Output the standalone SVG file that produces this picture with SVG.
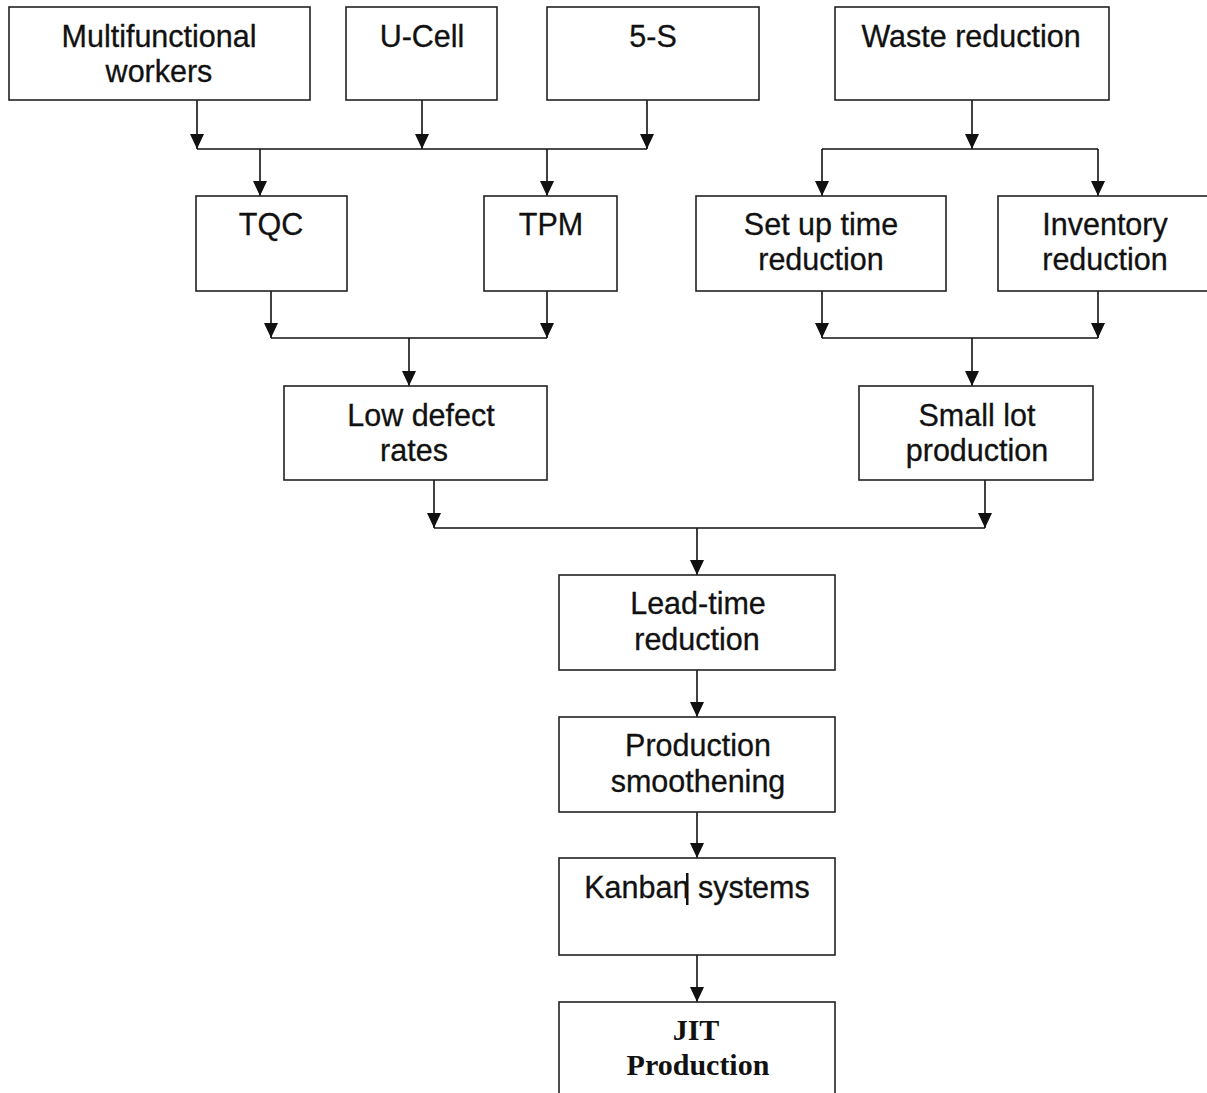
<svg xmlns="http://www.w3.org/2000/svg" width="1207" height="1093" viewBox="0 0 1207 1093">
<defs>
<marker id="ah" markerUnits="userSpaceOnUse" markerWidth="16" markerHeight="14" viewBox="0 0 16 14" refX="15" refY="7" orient="auto">
<path d="M0,0 L15,7 L0,14 Z" fill="#111"/>
</marker>
</defs>
<style>
rect.box{fill:#fff;stroke:#222;stroke-width:1.6}
text{font-family:"Liberation Sans",Arial,sans-serif;font-size:30.5px;fill:#111;text-anchor:middle;stroke:#111;stroke-width:0.3}
text.jit{font-family:"Liberation Serif","Times New Roman",serif;font-weight:bold;font-size:30px;stroke:none}
.c line{stroke:#111;stroke-width:1.6;fill:none}
.a{marker-end:url(#ah)}
</style>
<rect width="1207" height="1093" fill="#fff"/>
<g class="c" id="connectors">
<line class="a" x1="197" y1="100" x2="197" y2="149"/>
<line class="a" x1="422" y1="100" x2="422" y2="149"/>
<line class="a" x1="647" y1="100" x2="647" y2="149"/>
<line x1="197" y1="149" x2="647" y2="149"/>
<line class="a" x1="260" y1="149" x2="260" y2="196"/>
<line class="a" x1="547" y1="149" x2="547" y2="196"/>
<line class="a" x1="972" y1="100" x2="972" y2="149"/>
<line x1="822" y1="149" x2="1098" y2="149"/>
<line class="a" x1="822" y1="149" x2="822" y2="196"/>
<line class="a" x1="1098" y1="149" x2="1098" y2="196"/>
<line class="a" x1="271" y1="291" x2="271" y2="338"/>
<line class="a" x1="547" y1="291" x2="547" y2="338"/>
<line x1="271" y1="338" x2="547" y2="338"/>
<line class="a" x1="409" y1="338" x2="409" y2="386"/>
<line class="a" x1="822" y1="291" x2="822" y2="338"/>
<line class="a" x1="1098" y1="291" x2="1098" y2="338"/>
<line x1="822" y1="338" x2="1098" y2="338"/>
<line class="a" x1="972" y1="338" x2="972" y2="386"/>
<line class="a" x1="434" y1="480" x2="434" y2="528"/>
<line class="a" x1="985" y1="480" x2="985" y2="528"/>
<line x1="434" y1="528" x2="985" y2="528"/>
<line class="a" x1="697" y1="528" x2="697" y2="575"/>
<line class="a" x1="697" y1="670" x2="697" y2="717"/>
<line class="a" x1="697" y1="812" x2="697" y2="858"/>
<line class="a" x1="697" y1="955" x2="697" y2="1002"/>
</g>
<g id="multifunctional"><rect class="box" x="9" y="7" width="301" height="93"/><text x="159" y="47">Multifunctional</text><text x="159" y="82">workers</text></g>
<g id="ucell"><rect class="box" x="346" y="7" width="151" height="93"/><text x="422" y="47">U-Cell</text></g>
<g id="fives"><rect class="box" x="547" y="7" width="212" height="93"/><text x="653" y="47">5-S</text></g>
<g id="waste"><rect class="box" x="835" y="7" width="274" height="93"/><text x="971" y="47">Waste reduction</text></g>
<g id="tqc"><rect class="box" x="196" y="196" width="151" height="95"/><text x="271" y="235">TQC</text></g>
<g id="tpm"><rect class="box" x="484" y="196" width="133" height="95"/><text x="551" y="235">TPM</text></g>
<g id="setup"><rect class="box" x="696" y="196" width="250" height="95"/><text x="821" y="235">Set up time</text><text x="821" y="270">reduction</text></g>
<g id="inventory"><rect class="box" x="998" y="196" width="214" height="95"/><text x="1105" y="235">Inventory</text><text x="1105" y="270">reduction</text></g>
<g id="lowdefect"><rect class="box" x="284" y="386" width="263" height="94"/><text x="421" y="426">Low defect</text><text x="414" y="461">rates</text></g>
<g id="smalllot"><rect class="box" x="859" y="386" width="234" height="94"/><text x="977" y="426">Small lot</text><text x="977" y="461">production</text></g>
<g id="leadtime"><rect class="box" x="559" y="575" width="276" height="95"/><text x="698" y="614">Lead-time</text><text x="697" y="650">reduction</text></g>
<g id="smoothening"><rect class="box" x="559" y="717" width="276" height="95"/><text x="698" y="756">Production</text><text x="698" y="792">smoothening</text></g>
<g id="kanban"><rect class="box" x="559" y="858" width="276" height="97"/><text x="697" y="898">Kanban systems</text><rect x="686" y="873" width="2.5" height="32" fill="#111"/></g>
<g id="jit"><rect class="box" x="559" y="1002" width="276" height="100"/><text class="jit" x="696" y="1040">JIT</text><text class="jit" x="698" y="1075">Production</text></g>
</svg>
